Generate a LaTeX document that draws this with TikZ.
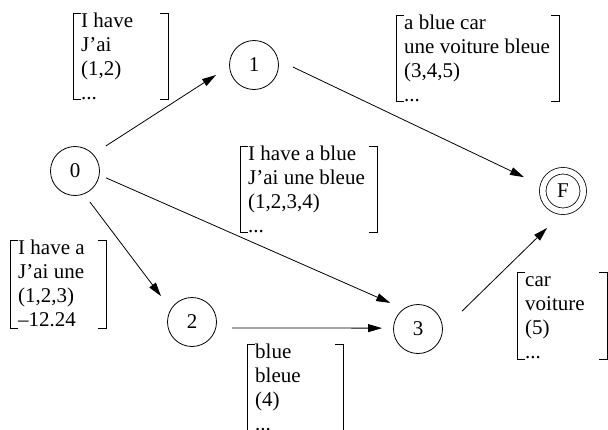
\documentclass[tikz,border=0pt]{standalone}
\usepackage{fontspec}
\setmainfont{Liberation Serif}
\usetikzlibrary{arrows.meta}
\newcommand\brackets[4]{%
  \draw[brk] ({#1+8},#2) -- (#1,#2) -- (#1,#4) -- ({#1+8},#4);
  \draw[brk] ({#3-8},#2) -- (#3,#2) -- (#3,#4) -- ({#3-8},#4);}
\begin{document}
\begin{tikzpicture}[x=1pt,y=-1pt,
  txt/.style={font=\fontsize{21}{24}\selectfont},
  state/.style={txt,circle,draw,line width=0.8pt,minimum size=49pt,inner sep=0pt,outer sep=0pt},
  final/.style={txt,circle,draw,line width=0.8pt,double,double distance=5.7pt,minimum size=40.5pt,inner sep=0pt,outer sep=3.25pt},
  lbl/.style={txt,anchor=base west,inner sep=0pt},
  brk/.style={line width=0.8pt},
  arr/.style={line width=0.8pt,-{Triangle[length=14pt,width=8pt]}}]
\useasboundingbox (0,0) rectangle (608,429);
\clip (0,0) rectangle (608,429);
% states
\node[state] (n0) at (75,171) {0};
\node[state] (n1) at (254,65) {1};
\node[state] (n2) at (192,322) {2};
\node[state] (n3) at (418,329) {3};
\node[final] (nF) at (563,191) {F};
% transitions
\draw[arr,shorten <=15.4pt,shorten >=16.1pt] (n0.43) -- (n1.183);
\draw[arr,shorten <=16.7pt,shorten >=18.1pt] (n1.12) -- (nF.165);
\draw[arr,shorten <=7.5pt,shorten >=15pt] (n0.351) -- (n3.125);
\draw[arr,shorten <=10.2pt,shorten >=16.6pt] (n0.291) -- (n2.149);
\draw[arr,shorten <=16.2pt,shorten >=11.5pt] (n2.346) -- (n3.178);
\draw[arr,shorten <=27.3pt,shorten >=19.4pt] (n3.357) -- (nF.265);
% labels
\node[lbl] (l01) at (81,27) {\begin{tabular}[t]{@{}l@{}}I have\\J'ai\\(1,2)\\...\end{tabular}};
\brackets{73}{13}{168}{99}
\node[lbl] (l1F) at (404,29) {\begin{tabular}[t]{@{}l@{}}a blue car\\une voiture bleue\\(3,4,5)\\...\end{tabular}};
\brackets{396}{15}{559}{101}
\node[lbl] (l03) at (248,160) {\begin{tabular}[t]{@{}l@{}}I have a blue\\J'ai une bleue\\(1,2,3,4)\\...\end{tabular}};
\brackets{240}{146}{377}{232}
\node[lbl] (l02) at (18,254) {\begin{tabular}[t]{@{}l@{}}I have a\\J'ai une\\(1,2,3)\\\textendash12.24\end{tabular}};
\brackets{10}{240}{106}{328}
\node[lbl] (l23) at (255,358) {\begin{tabular}[t]{@{}l@{}}blue\\bleue\\(4)\\...\end{tabular}};
\brackets{247}{344}{343}{432}
\node[lbl] (l3F) at (525,286) {\begin{tabular}[t]{@{}l@{}}car\\voiture\\(5)\\...\end{tabular}};
\brackets{517}{272}{607}{359}
\end{tikzpicture}
\end{document}
